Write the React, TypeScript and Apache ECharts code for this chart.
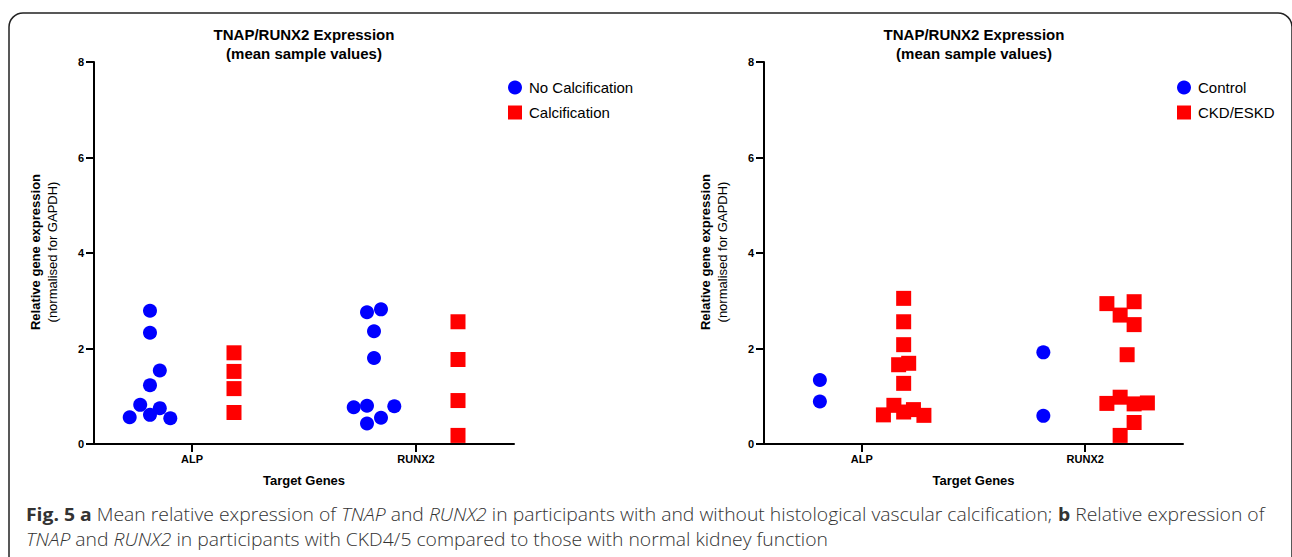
import { useEffect, useRef } from "react";
import * as echarts from "echarts";

// ---- shared axis content ----
const genes = ["ALP", "RUNX2"];
const geneTicks = [7, 23]; // x positions of the gene categories on the value axis (0..30)
const groupShift = 3; // left/right column offset within a gene
const yTicks = { min: 0, max: 8, interval: 2 };

// ---- panel a: calcification ----
const aLegend = ["No Calcification", "Calcification"];
const aNoCalcALP = [2.79, 2.33, 1.54, 1.23, 0.82, 0.75, 0.56, 0.61, 0.54];
const aNoCalcALPJitter = [0, 0, 0.7, 0, -0.7, 0.7, -1.45, 0, 1.45];
const aCalcALP = [1.91, 1.52, 1.16, 0.66];
const aCalcALPJitter = [0, 0, 0, 0];
const aNoCalcRUNX2 = [2.76, 2.82, 2.36, 1.8, 0.77, 0.8, 0.79, 0.55, 0.43];
const aNoCalcRUNX2Jitter = [-0.5, 0.5, 0, 0, -1.45, -0.5, 1.45, 0.5, -0.5];
const aCalcRUNX2 = [2.56, 1.77, 0.91, 0.18];
const aCalcRUNX2Jitter = [0, 0, 0, 0];

// ---- panel b: CKD vs control ----
const bLegend = ["Control", "CKD/ESKD"];
const bControlALP = [1.34, 0.89];
const bControlALPJitter = [0, 0];
const bCkdALP = [3.05, 2.56, 2.08, 1.66, 1.69, 1.27, 0.61, 0.81, 0.67, 0.72, 0.6];
const bCkdALPJitter = [0, 0, 0, -0.36, 0.36, 0, -1.45, -0.7, 0, 0.7, 1.45];
const bControlRUNX2 = [1.92, 0.59];
const bControlRUNX2Jitter = [0, 0];
const bCkdRUNX2 = [2.94, 2.98, 2.7, 2.5, 1.87, 0.85, 0.98, 0.84, 0.86, 0.45, 0.18];
const bCkdRUNX2Jitter = [-1.45, 0.5, -0.5, 0.5, 0, -1.45, -0.5, 0.5, 1.45, 0.5, -0.5];

const titleText = "TNAP/RUNX2 Expression\n(mean sample values)";
const yName1 = "Relative gene expression";
const yName2 = "(normalised for GAPDH)";
const xName = "Target Genes";
const caption1 =
  "{b|Fig. 5 a} Mean relative expression of {i|TNAP} and {i|RUNX2} in participants with and without histological vascular calcification; {b|b} Relative expression of";
const caption2 =
  "{i|TNAP} and {i|RUNX2} in participants with CKD4/5 compared to those with normal kidney function";

const BLUE = "#0000FF";
const RED = "#FF0000";
const ARIAL = "Liberation Sans, Arial, sans-serif";
const CAPFONT = "Open Sans, Noto Sans, sans-serif";

function pts(values: number[], jitter: number[], center: number) {
  return values.map((v, i) => [center + (jitter[i] || 0), v]);
}

function xAxis(gridIndex: number) {
  return {
    type: "value",
    gridIndex,
    min: 0,
    max: 30,
    name: xName,
    nameLocation: "middle",
    nameGap: 30,
    nameTextStyle: { fontFamily: ARIAL, fontWeight: "bold", fontSize: 13, color: "#000" },
    axisLine: { show: true, onZero: false, lineStyle: { color: "#000", width: 2 } },
    axisTick: { show: true, length: 8, customValues: geneTicks, lineStyle: { color: "#000", width: 2 } },
    axisLabel: {
      show: true,
      customValues: geneTicks,
      margin: 9,
      formatter: (v: number) => {
        const i = geneTicks.findIndex((t) => Math.abs(t - v) < 1e-6);
        return i >= 0 ? genes[i] : "";
      },
      fontFamily: ARIAL,
      fontWeight: "bold",
      fontSize: 11,
      color: "#000",
    },
    splitLine: { show: false },
  };
}

function yAxis(gridIndex: number) {
  return {
    type: "value",
    gridIndex,
    min: yTicks.min,
    max: yTicks.max,
    interval: yTicks.interval,
    axisLine: { show: true, lineStyle: { color: "#000", width: 2 } },
    axisTick: { show: true, length: 8, lineStyle: { color: "#000", width: 2 } },
    axisLabel: { margin: 10, fontFamily: ARIAL, fontWeight: "bold", fontSize: 11, color: "#000" },
    splitLine: { show: false },
  };
}

function legend(names: string[], left: number) {
  return {
    orient: "vertical",
    left,
    top: 75,
    itemWidth: 14,
    itemHeight: 14,
    itemGap: 10,
    selectedMode: false,
    textStyle: { fontFamily: ARIAL, fontSize: 15, color: "#000", padding: [0, 0, 0, 2] },
    data: [
      { name: names[0], icon: "circle" },
      { name: names[1], icon: "rect" },
    ],
  };
}

function titleEl(cx: number) {
  return {
    type: "text",
    x: cx,
    y: 25,
    style: {
      text: titleText,
      fontFamily: ARIAL,
      fontWeight: "bold",
      fontSize: 15,
      lineHeight: 19,
      fill: "#000",
      align: "center",
      verticalAlign: "top",
    },
  };
}

function yNameEls(axisX: number) {
  return [
    {
      type: "text",
      x: axisX - 59,
      y: 252,
      rotation: Math.PI / 2,
      style: {
        text: yName1,
        fontFamily: ARIAL,
        fontWeight: "bold",
        fontSize: 13,
        fill: "#000",
        align: "center",
        verticalAlign: "middle",
      },
    },
    {
      type: "text",
      x: axisX - 42,
      y: 252,
      rotation: Math.PI / 2,
      style: {
        text: yName2,
        fontFamily: ARIAL,
        fontWeight: "normal",
        fontSize: 13,
        fill: "#000",
        align: "center",
        verticalAlign: "middle",
      },
    },
  ];
}

const capRich = {
  b: { fontFamily: CAPFONT, fontSize: 18, fontWeight: "bold", fill: "#333" },
  i: { fontFamily: CAPFONT, fontSize: 18, fontStyle: "italic", fontWeight: 300, fill: "#333" },
};

function captionEl(text: string, y: number) {
  return {
    type: "text",
    x: 26,
    y,
    scaleX: 1.075,
    style: {
      text,
      fontFamily: CAPFONT,
      fontSize: 18,
      fontWeight: 300,
      fill: "#333",
      align: "left",
      verticalAlign: "middle",
      rich: capRich,
    },
  };
}

const option = {
  animation: false,
  backgroundColor: "#fff",
  grid: [
    { left: 94, top: 62, width: 420, height: 382, containLabel: false },
    { left: 764, top: 62, width: 419, height: 382, containLabel: false },
  ],
  xAxis: [xAxis(0), xAxis(1)],
  yAxis: [yAxis(0), yAxis(1)],
  legend: [legend(aLegend, 503), legend(bLegend, 1172)],
  series: [
    {
      name: aLegend[0],
      type: "scatter",
      xAxisIndex: 0,
      yAxisIndex: 0,
      symbol: "circle",
      symbolSize: 14,
      itemStyle: { color: BLUE, opacity: 1 },
      data: [
        ...pts(aNoCalcALP, aNoCalcALPJitter, geneTicks[0] - groupShift),
        ...pts(aNoCalcRUNX2, aNoCalcRUNX2Jitter, geneTicks[1] - groupShift),
      ],
    },
    {
      name: aLegend[1],
      type: "scatter",
      xAxisIndex: 0,
      yAxisIndex: 0,
      symbol: "rect",
      symbolSize: 15,
      itemStyle: { color: RED, opacity: 1 },
      data: [
        ...pts(aCalcALP, aCalcALPJitter, geneTicks[0] + groupShift),
        ...pts(aCalcRUNX2, aCalcRUNX2Jitter, geneTicks[1] + groupShift),
      ],
    },
    {
      name: bLegend[0],
      type: "scatter",
      xAxisIndex: 1,
      yAxisIndex: 1,
      symbol: "circle",
      symbolSize: 14,
      itemStyle: { color: BLUE, opacity: 1 },
      data: [
        ...pts(bControlALP, bControlALPJitter, geneTicks[0] - groupShift),
        ...pts(bControlRUNX2, bControlRUNX2Jitter, geneTicks[1] - groupShift),
      ],
    },
    {
      name: bLegend[1],
      type: "scatter",
      xAxisIndex: 1,
      yAxisIndex: 1,
      symbol: "rect",
      symbolSize: 15,
      itemStyle: { color: RED, opacity: 1 },
      data: [
        ...pts(bCkdALP, bCkdALPJitter, geneTicks[0] + groupShift),
        ...pts(bCkdRUNX2, bCkdRUNX2Jitter, geneTicks[1] + groupShift),
      ],
    },
  ],
  graphic: [
    {
      type: "rect",
      shape: { x: 9, y: 13, width: 1283, height: 620, r: 14 },
      style: { fill: "none", stroke: "#222", lineWidth: 1.5 },
      silent: true,
    },
    titleEl(304),
    titleEl(974),
    ...yNameEls(94),
    ...yNameEls(764),
    captionEl(caption1, 514),
    captionEl(caption2, 539),
  ],
};

export default function App() {
  const ref = useRef<HTMLDivElement>(null);
  useEffect(() => {
    const chart = echarts.init(ref.current as HTMLDivElement, null, { renderer: "svg" });
    chart.setOption(option as any);
    return () => chart.dispose();
  }, []);
  return (
    <div
      ref={ref}
      style={{ position: "absolute", left: 0, top: 0, width: 1292, height: 557, background: "#fff" }}
    />
  );
}
